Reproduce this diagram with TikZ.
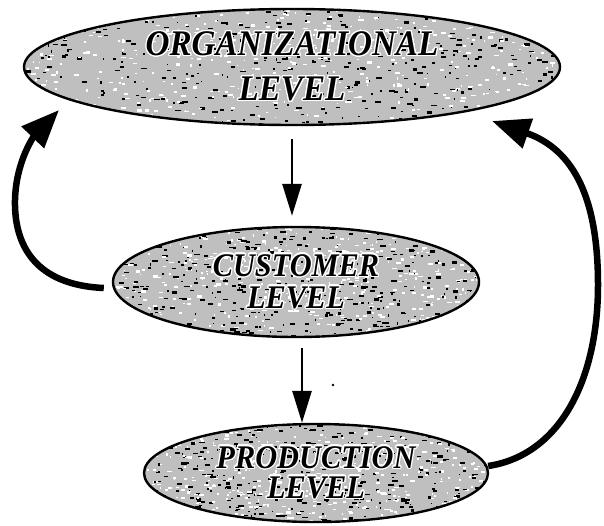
\documentclass[tikz,border=0pt]{standalone}
\usepackage{fontspec}
\usepackage[copies]{contour}
\usetikzlibrary{shapes.geometric,arrows.meta}
\newfontfamily\levelfont[FakeStretch=0.92]{Liberation Serif}
\contourlength{1.2pt}
\contournumber{24}
\newcommand\lvltext[1]{\contour{white}{#1}}

\tikzset{
  level/.style 2 args={ellipse, draw=black, line width=2.4pt, fill=gray!50,
    inner sep=0pt, align=center, text=black,
    font={\levelfont\bfseries\itshape\fontsize{#1}{#2}\selectfont}},
  % scanned-looking stipple inside each ellipse
  grain/.style n args={3}{path picture={
    \pgfmathsetseed{#3}
    \foreach \k in {1,...,420}{
      \fill[black] ([xshift={rand*#1},yshift={rand*#2}]path picture bounding box.center)
        rectangle ++({1+5*rnd},{1+1.5*rnd});
      \fill[white] ([xshift={rand*#1},yshift={rand*#2}]path picture bounding box.center)
        rectangle ++({1+4*rnd},{1+1.5*rnd});
    }}},
  flow/.style={-{Triangle[length=32pt,width=19pt]}, line width=2.8pt},
  loopback/.style={-{Triangle[length=38pt,width=30pt]}, line width=6.5pt},
}

\begin{document}
\begin{tikzpicture}[x=1pt,y=-1pt]
  \useasboundingbox (0,0) rectangle (604,525);
  \fill[white] (0,0) rectangle (604,525);

  % the three levels
  \node[level={36}{45}, minimum width=536pt, minimum height=116pt, grain={268}{58}{11}]
    (org) at (292,67) {\lvltext{ORGANIZATIONAL}\\\lvltext{LEVEL}};
  \node[level={33}{32}, minimum width=366pt, minimum height=110pt, grain={183}{55}{23}]
    (cust) at (296,282) {\lvltext{CUSTOMER}\\\lvltext{LEVEL}};
  \node[level={33}{30}, minimum width=344pt, minimum height=98pt, grain={172}{49}{37}]
    (prod) at (316,473) {\lvltext{PRODUCTION}\\\lvltext{LEVEL}};

  % straight downward flow
  \path (org.south) ++(0,13) coordinate (a1s);
  \path (cust.north -| a1s) ++(0,-10) coordinate (a1e);
  \draw[flow] (a1s) -- (a1e);

  \path (cust.south) ++(6,10) coordinate (a2s);
  \path (prod.north -| a2s) coordinate (a2e);
  \draw[flow] (a2s) -- (a2e);

  % feedback loops back to the organizational level
  \path (cust.west) ++(-8,6) coordinate (l1);
  \path (org.center) ++(-233,43) coordinate (l2);
  \draw[loopback] (l1) .. controls (35,285) and (14,245) .. (15,200)
                       .. controls (16,160) and (35,135) .. (l2);

  \path (prod.east) ++(-1,-7) coordinate (r1);
  \path (org.center) ++(200,54) coordinate (r2);
  \draw[loopback] (r1) .. controls (560,455) and (598,380) .. (598,285)
                       .. controls (598,200) and (575,150) .. (r2);

  \fill (333,385) circle (1.3);
\end{tikzpicture}
\end{document}
